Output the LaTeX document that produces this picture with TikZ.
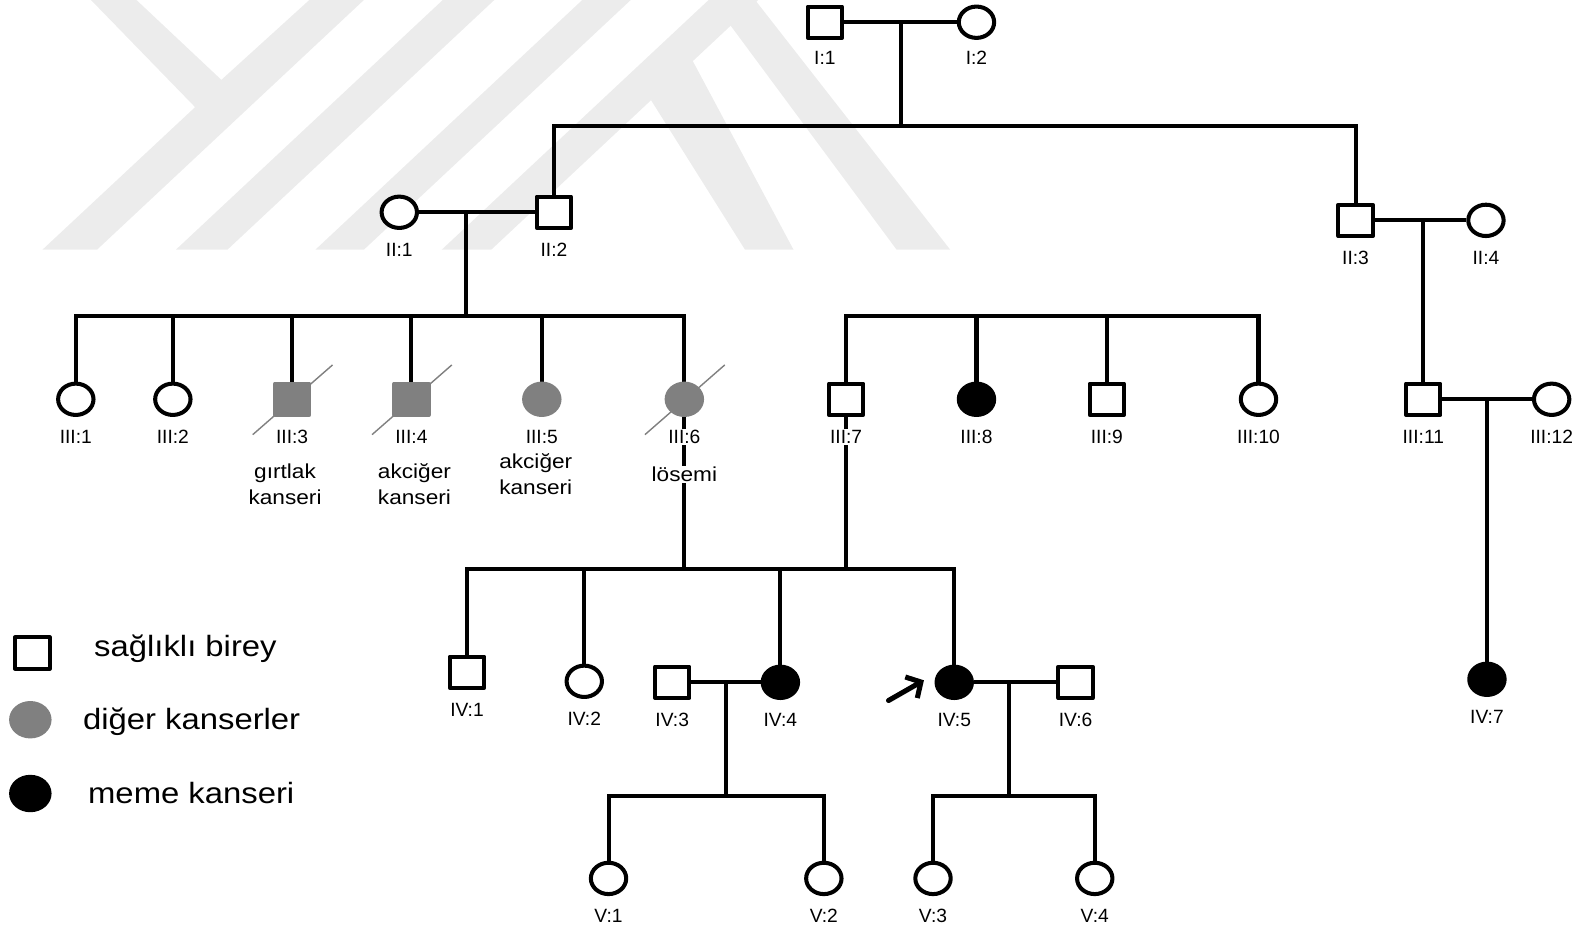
\documentclass[tikz,border=0pt]{standalone}
\usepackage{fontspec}
\setmainfont{Liberation Sans}
\newfontfamily\wideface[FakeStretch=1.12]{Liberation Sans}
\usetikzlibrary{arrows.meta,backgrounds,shapes.geometric}

\definecolor{sickgray}{gray}{0.5}
\definecolor{markgray}{gray}{0.925}

\begin{document}
\begin{tikzpicture}[
	x=1pt, y=-1pt,
	line join=round,
	label distance=11.7pt,
	person/.style={draw, line width=4pt, inner sep=0pt, fill=white},
	male/.style={person, rectangle, minimum width=34pt, minimum height=31pt},
	female/.style={person, ellipse, minimum width=35pt, minimum height=31pt},
	other/.style={draw=sickgray, fill=sickgray},
	breast/.style={draw=black, fill=black},
	tag/.style={font=\fontsize{19}{19}\selectfont, fill=white, inner sep=1pt, text height=13.6pt, text depth=0pt},
	note/.style={font=\wideface\fontsize{20}{25}\selectfont, align=center, inner sep=1pt},
	key/.style={font=\wideface\fontsize{29}{29}\selectfont, anchor=base west, inner sep=0pt},
	link/.style={line width=4pt, line join=miter},
	dead/.style={sickgray, line width=1.4pt},
	proband/.style={line width=5pt, line cap=round, -{Straight Barb[length=11pt, width=24pt, line width=5pt]}}
	]
	\useasboundingbox (0,0) rectangle (1568,920);
	
	% Generation I
	\node[male] (I1) at (816,22) {};
	\node[female] (I2) at (966,22) {};
	\node[tag] at (816,57) {I:1};
	\node[tag] at (966,57) {I:2};
	
	% Generation II
	\node[female, label={[tag]below:{II:1}}] (II1) at (395,210) {};
	\node[male, label={[tag]below:{II:2}}] (II2) at (548,210) {};
	\node[male, label={[tag]below:{II:3}}] (II3) at (1341,218) {};
	\node[female, label={[tag]below:{II:4}}] (II4) at (1470,218) {};
	
	% Generation III
	\node[female, label={[tag]below:{III:1}}] (III1) at (75,395) {};
	\node[female, label={[tag]below:{III:2}}] (III2) at (171,395) {};
	\node[male, other, label={[tag]below:{III:3}}] (III3) at (289,395) {};
	\node[male, other, label={[tag]below:{III:4}}] (III4) at (407,395) {};
	\node[female, other, label={[tag]below:{III:5}}] (III5) at (536,395) {};
	\node[female, other, label={[tag]below:{III:6}}] (III6) at (677,395) {};
	\node[male, label={[tag]below:{III:7}}] (III7) at (837,395) {};
	\node[female, breast, label={[tag]below:{III:8}}] (III8) at (966,395) {};
	\node[male, label={[tag]below:{III:9}}] (III9) at (1095,395) {};
	\node[female, label={[tag]below:{III:10}}] (III10) at (1245,395) {};
	\node[male, label={[tag]below:{III:11}}] (III11) at (1408,395) {};
	\node[female, label={[tag]below:{III:12}}] (III12) at (1535,395) {};
	
	\node[note] (n3) at (282,479) {gırtlak\\kanseri};
	\node[note] (n4) at (410,479) {akciğer\\kanseri};
	\node[note] (n5) at (530,469) {akciğer\\kanseri};
	\node[note, fill=white] (n6) at (677,469) {lösemi};
	
	% deceased
	\foreach \p in {III3,III4,III6}
		\draw[dead] (\p) ++(-39,35) -- ++(79,-69);
	
	% Generation IV
	\node[male, label={[tag]below:{IV:1}}] (IV1) at (462,665) {};
	\node[female, label={[tag]below:{IV:2}}] (IV2) at (578,674) {};
	\node[male, label={[tag]below:{IV:3}}] (IV3) at (665,675) {};
	\node[female, breast, label={[tag]below:{IV:4}}] (IV4) at (772,675) {};
	\node[female, breast, label={[tag]below:{IV:5}}] (IV5) at (944,675) {};
	\node[male, label={[tag]below:{IV:6}}] (IV6) at (1064,675) {};
	\node[female, breast, label={[tag]below:{IV:7}}] (IV7) at (1471,672) {};
	
	% Generation V
	\node[female, label={[tag]below:{V:1}}] (V1) at (602,869) {};
	\node[female, label={[tag]below:{V:2}}] (V2) at (815,869) {};
	\node[female, label={[tag]below:{V:3}}] (V3) at (923,869) {};
	\node[female, label={[tag]below:{V:4}}] (V4) at (1083,869) {};
	
	% proband
	\coordinate (pa) at (879,693);
	\coordinate (pb) at (914,673);
	\draw[proband] (pa) -- (pb);
	
	% Legend
	\node[male] (k1) at (32,646) {};
	\node[female, other, minimum width=38pt, minimum height=33pt] (k2) at (30,712) {};
	\node[female, breast, minimum width=38pt, minimum height=33pt] (k3) at (30,785) {};
	\node[key] at (93,649) {sağlıklı birey};
	\node[key] at (82,722) {diğer kanserler};
	\node[key] at (87,795) {meme kanseri};
	
	\begin{pgfonlayer}{background}
		% faint logo behind the tree
		\begin{scope}[markgray]
			\fill (42,247) -- (96,247) -- (360,0) -- (306,0) -- (219,79) -- (135,0) -- (90,0) -- (193,106) -- cycle;
			\fill (174,247) -- (225,247) -- (489,0) -- (438,0) -- cycle;
			\fill (312,247) -- (360,247) -- (624,0) -- (576,0) -- cycle;
			\fill (437,247) -- (486,247) -- (750,0) -- (701,0) -- cycle;
			\fill (704,0) -- (747,0) -- (940,247) -- (887,247) -- cycle;
			\fill (644,99) -- (683,56) -- (785,247) -- (737,247) -- cycle;
		\end{scope}
		
		% lines of descent
		\coordinate (u1) at (891,22);
		\coordinate (s1) at (891,125);
		\coordinate (u2) at (461,210);
		\coordinate (s2) at (461,313);
		\coordinate (s3) at (837,313);
		\coordinate (u3) at (1408,218);
		\coordinate (u4) at (1471,395);
		\coordinate (s4) at (700,563);
		\coordinate (u5) at (718,675);
		\coordinate (s5) at (718,787);
		\coordinate (u6) at (998,675);
		\coordinate (s6) at (998,787);
		
		\draw[link] (I1) -- (I2);
		\draw[link] (u1) -- (s1);
		\draw[link] (II2) -- (II2 |- s1) -- (II3 |- s1) -- (II3);
		
		\draw[link] (II1) -- (II2);
		\draw[link] (u2) -- (s2);
		\draw[link] (III1) -- (III1 |- s2) -- (III6 |- s2) -- (III6);
		\foreach \k in {2,3,4,5}
			\draw[link] (III\k |- s2) -- (III\k);
		
		\draw[link] (III7) -- (III7 |- s3) -- (III10 |- s3) -- (III10);
		\foreach \k in {8,9}
			\draw[link] (III\k |- s3) -- (III\k);
		
		\draw[link] (II3) -- (II4);
		\draw[link] (u3) -- (III11);
		\draw[link] (III11) -- (III12);
		\draw[link] (u4) -- (IV7);
		
		\draw[link] (III6) -- (III6 |- s4);
		\draw[link] (III7) -- (III7 |- s4);
		\draw[link] (IV1) -- (IV1 |- s4) -- (IV5 |- s4) -- (IV5);
		\foreach \k in {2,4}
			\draw[link] (IV\k |- s4) -- (IV\k);
		
		\draw[link] (IV3) -- (IV4);
		\draw[link] (u5) -- (s5);
		\draw[link] (V1) -- (V1 |- s5) -- (V2 |- s5) -- (V2);
		
		\draw[link] (IV5) -- (IV6);
		\draw[link] (u6) -- (s6);
		\draw[link] (V3) -- (V3 |- s6) -- (V4 |- s6) -- (V4);
	\end{pgfonlayer}
	
\end{tikzpicture}
\end{document}
